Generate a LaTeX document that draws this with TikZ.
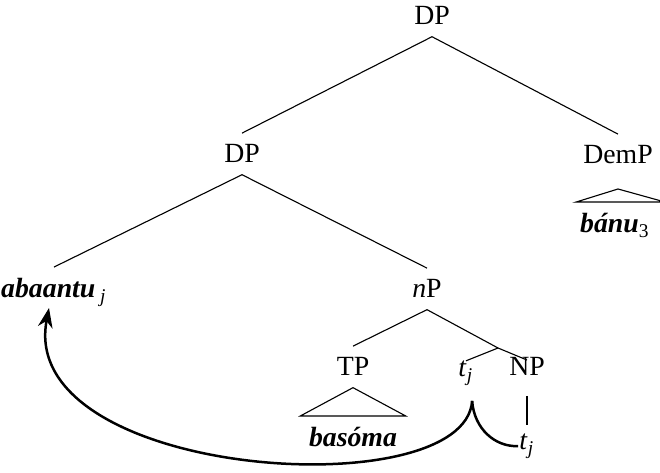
\documentclass[tikz,border=0pt]{standalone}
\usepackage{fontspec}
\setmainfont{LiberationSerif}[Extension=.ttf, UprightFont=*-Regular,
  BoldFont=*-Bold, ItalicFont=*-Italic, BoldItalicFont=*-BoldItalic]
\usetikzlibrary{arrows.meta}

\begin{document}
\begin{tikzpicture}[x=0.36pt, y=-0.36pt, >=Stealth, line width=0.4pt,
    lbl/.style={anchor=base, inner sep=4pt},
    mv/.style={line width=0.9pt}]
\useasboundingbox (0,0) rectangle (660,473);

% Labels of the tree
\node[lbl] (dp)     at (432,25)  {DP};
\node[lbl] (dpb)    at (242,163) {DP};
\node[lbl] (demp)   at (618,164) {DemP};
\node[lbl] (banu)   at (615,233) {\textbf{\textit{bánu}}\textsubscript{3}};
\node[lbl] (abaantu) at (54,298) {\textbf{\textit{abaantu}}\,\textsubscript{\textit{j}}};
\node[lbl] (np)     at (427,298) {\textit{n}P};
\node[lbl] (tp)     at (353,376) {TP};
\node[lbl] (tj)     at (466,377) {\textit{t}\textsubscript{\textit{j}}};
\node[lbl] (nprt)   at (527,376) {NP};
\node[lbl] (basoma) at (353,447) {\textbf{\textit{basóma}}};
\node[lbl] (tjlow)  at (527,450) {\textit{t}\textsubscript{\textit{j}}};
\coordinate (bar) at (498,348);

% Branches
\draw (dp.south) -- (dpb.north);
\draw (dp.south) -- (demp.north);
\draw (dpb.south) -- (abaantu.north);
\draw (dpb.south) -- (np.north);
\draw (np.south) -- (tp.north);
\draw (np.south) -- (bar) -- ([yshift=-5pt]nprt.north);
\draw (bar) -- ([yshift=-4pt]tj.north);
\draw ([yshift=-3pt]nprt.south) -- ([yshift=-1pt]tjlow.north);

% Triangles
\draw (tp.south) -- ([xshift=-19pt]basoma.north) -- ([xshift=19pt]basoma.north) -- cycle;
\draw ([yshift=-4.7pt]demp.south) -- ([xshift=-14pt]banu.north) -- ([xshift=18pt]banu.north) -- cycle;

% Movement
\coordinate (src) at ([shift={(2.2pt,-8.6pt)}]tj.base);
\draw[mv, ->] (src) .. controls +(-7,107) and +(-33,171) .. ([shift={(-1.8pt,-3.6pt)}]abaantu.base);
\draw[mv] (src) .. controls +(2,28) and +(-23,1) .. ([shift={(-3.2pt,1.4pt)}]tjlow.base);

\end{tikzpicture}
\end{document}
